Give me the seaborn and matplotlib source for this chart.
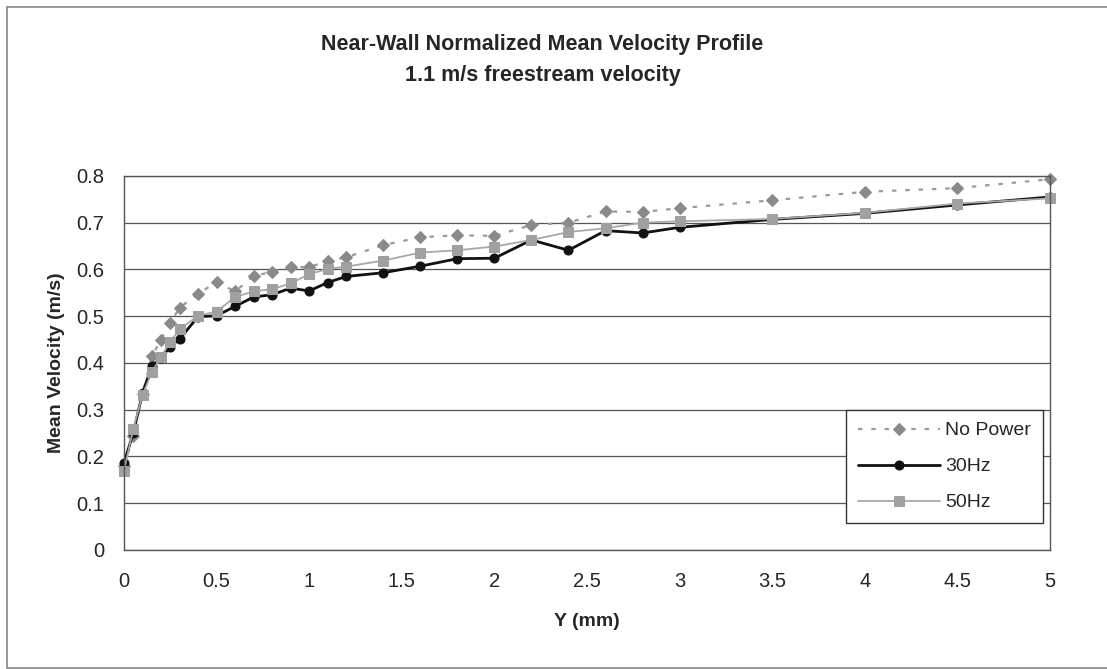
#!/usr/bin/env python3
"""
Near-wall normalized mean velocity profile
"""
import matplotlib
matplotlib.use("Agg")
import matplotlib.pyplot as plt
import seaborn as sns
import pandas as pd

y_mm = [0, 0.05, 0.1, 0.15, 0.2, 0.25, 0.3, 0.4, 0.5, 0.6, 0.7, 0.8, 0.9, 1.0,
        1.1, 1.2, 1.4, 1.6, 1.8, 2.0, 2.2, 2.4, 2.6, 2.8, 3.0, 3.5, 4.0, 4.5, 5.0]

no_power = [0.18, 0.243, 0.333, 0.414, 0.45, 0.485, 0.518, 0.548, 0.573, 0.553,
            0.586, 0.595, 0.605, 0.605, 0.618, 0.626, 0.652, 0.669, 0.673, 0.672,
            0.695, 0.70, 0.724, 0.723, 0.731, 0.748, 0.766, 0.774, 0.793]

hz30 = [0.186, 0.25, 0.335, 0.393, 0.41, 0.435, 0.451, 0.499, 0.501, 0.521,
        0.541, 0.546, 0.56, 0.554, 0.572, 0.585, 0.593, 0.607, 0.623, 0.624,
        0.663, 0.641, 0.683, 0.678, 0.69, 0.707, 0.72, 0.738, 0.755]

hz50 = [0.169, 0.259, 0.331, 0.38, 0.413, 0.445, 0.472, 0.501, 0.51, 0.541,
        0.553, 0.558, 0.57, 0.59, 0.601, 0.606, 0.619, 0.636, 0.641, 0.649,
        0.663, 0.68, 0.688, 0.70, 0.703, 0.708, 0.721, 0.741, 0.752]

df = pd.DataFrame({"Y": y_mm, "No Power": no_power, "30Hz": hz30, "50Hz": hz50})

sns.set_style("white")
plt.rcParams["font.family"] = ["Liberation Sans", "DejaVu Sans"]

fig = plt.figure(figsize=(11.07, 6.69), dpi=100)
ax = fig.add_axes([0.112, 0.178, 0.8365, 0.559])

sns.lineplot(data=df, x="Y", y="No Power", ax=ax, color="#9a9a9a",
             linestyle=(0, (2, 4)), linewidth=1.6, marker="D", markersize=6.5,
             markerfacecolor="#8a8a8a", markeredgecolor="#8a8a8a",
             label="No Power", clip_on=False)
sns.lineplot(data=df, x="Y", y="30Hz", ax=ax, color="#111111",
             linewidth=2.0, marker="o", markersize=6.5,
             markerfacecolor="#111111", markeredgecolor="#111111",
             label="30Hz", clip_on=False)
sns.lineplot(data=df, x="Y", y="50Hz", ax=ax, color="#a8a8a8",
             linewidth=1.3, marker="s", markersize=6.5,
             markerfacecolor="#a0a0a0", markeredgecolor="#a0a0a0",
             label="50Hz", clip_on=False)

ax.set_xlim(0, 5)
ax.set_ylim(0, 0.8)
ax.set_xticks([0, 0.5, 1, 1.5, 2, 2.5, 3, 3.5, 4, 4.5, 5])
ax.set_xticklabels(["0", "0.5", "1", "1.5", "2", "2.5", "3", "3.5", "4", "4.5", "5"])
ax.set_yticks([0, 0.1, 0.2, 0.3, 0.4, 0.5, 0.6, 0.7, 0.8])
ax.set_yticklabels(["0", "0.1", "0.2", "0.3", "0.4", "0.5", "0.6", "0.7", "0.8"])
ax.yaxis.grid(True, color="#555555", linewidth=0.9)
ax.xaxis.grid(False)
ax.tick_params(axis="y", direction="out", length=6, width=1, color="#444444",
               labelsize=14.5, pad=8)
ax.tick_params(axis="x", direction="out", length=6, width=1, color="#444444",
               labelsize=14.5, pad=10)
for s in ax.spines.values():
    s.set_color("#555555")
    s.set_linewidth(1.0)

ax.set_xlabel("Y (mm)", fontsize=14, fontweight="bold", labelpad=16)
ax.set_ylabel("Mean Velocity (m/s)", fontsize=14, fontweight="bold", labelpad=8)

fig.text(0.49, 0.933, "Near-Wall Normalized Mean Velocity Profile",
         ha="center", va="center", fontsize=15.5, fontweight="bold")
fig.text(0.49, 0.887, "1.1 m/s freestream velocity",
         ha="center", va="center", fontsize=15.5, fontweight="bold")

leg = ax.legend(loc="upper right", bbox_to_anchor=(0.9924, 0.374), fontsize=14,
                borderaxespad=0, frameon=True, fancybox=False, framealpha=1,
                edgecolor="#333333", handlelength=4.2, borderpad=0.6,
                labelspacing=0.95, handletextpad=0.3)
leg.get_frame().set_linewidth(1.0)

# chart area border
fig.add_artist(plt.Line2D([7 / 1107, 1.0], [1 - 7 / 669, 1 - 7 / 669],
                          color="#888888", linewidth=1.2))
fig.add_artist(plt.Line2D([7 / 1107, 7 / 1107], [0.002, 1 - 7 / 669],
                          color="#888888", linewidth=1.2))
fig.add_artist(plt.Line2D([7 / 1107, 1.0], [0.002, 0.002],
                          color="#888888", linewidth=1.2))

fig.savefig("out.png", dpi=100)
